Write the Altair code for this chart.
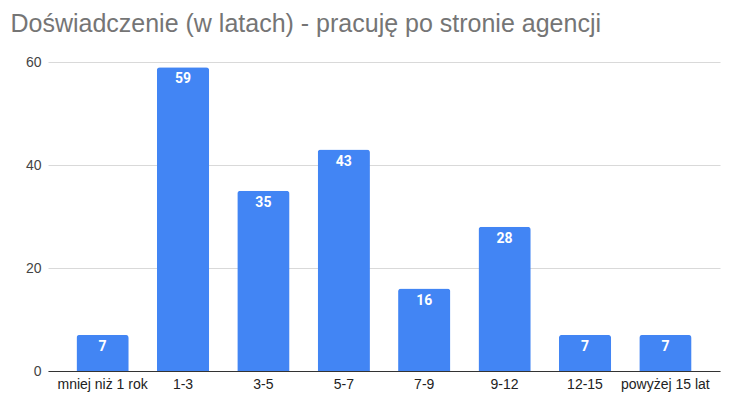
import altair as alt
import pandas as pd

categories = ["mniej niż 1 rok", "1-3", "3-5", "5-7", "7-9", "9-12", "12-15", "powyżej 15 lat"]
values = [7, 59, 35, 43, 16, 28, 7, 7]

df = pd.DataFrame({"cat": categories, "val": values})

base = alt.Chart(df).encode(
    x=alt.X("cat:N", sort=categories,
            scale=alt.Scale(paddingInner=0.35, paddingOuter=0.354),
            axis=alt.Axis(title=None, labelAngle=0, labelFont="Liberation Sans", labelFontSize=14,
                          labelColor="#222222", ticks=False, domainColor="#333333",
                          domainWidth=1, labelPadding=6)),
    y=alt.Y("val:Q", scale=alt.Scale(domain=[0, 60]),
            axis=alt.Axis(title=None, values=[0, 20, 40, 60], labelFont="Liberation Sans",
                          labelFontSize=14, labelColor="#444444", ticks=False,
                          domain=False, gridColor="#d9d9d9", labelPadding=7)),
)

bars = base.mark_bar(color="#4285F4", cornerRadiusTopLeft=3, cornerRadiusTopRight=3)
labels = base.mark_text(color="white", font="Roboto", fontWeight="bold", fontSize=14,
                        baseline="middle", dy=12).encode(text="val:Q")

chart = (bars + labels).properties(
    width=672, height=309,
    title=alt.TitleParams("Doświadczenie (w latach) - pracuję po stronie agencji",
                          anchor="start", frame="bounds", font="Liberation Sans", fontSize=25,
                          fontWeight="normal", color="#757575", dx=-15, dy=-14),
    autosize=alt.AutoSizeParams(type="none"),
    padding={"left": 48, "top": 62, "right": 12, "bottom": 32},
).configure_view(stroke=None).configure_axisX(grid=False)

chart.save("out.html", embed_options={"renderer": "svg", "actions": False})
